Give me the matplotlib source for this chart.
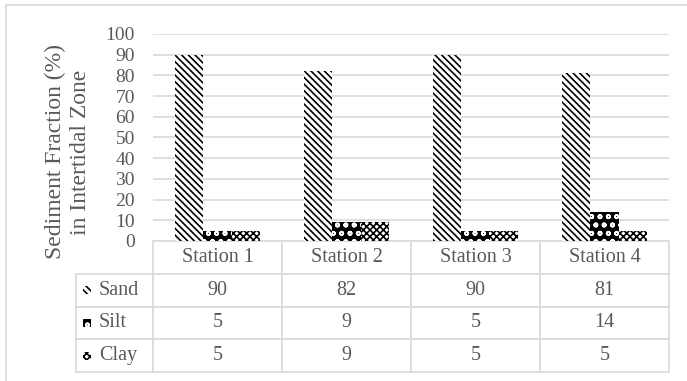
import matplotlib
matplotlib.use("Agg")
import matplotlib.pyplot as plt
from matplotlib.patches import Rectangle
import numpy as np

stations = ["Station 1", "Station 2", "Station 3", "Station 4"]
fractions = ["Sand", "Silt", "Clay"]
sand = [90, 82, 90, 81]
silt = [5, 9, 5, 14]
clay = [5, 9, 5, 5]

TXT = "#595959"
GRID = "#d9d9d9"
plt.rcParams["font.family"] = ["Liberation Serif", "DejaVu Serif"]
plt.rcParams["hatch.linewidth"] = 1.2

W, H = 687, 381
fig = plt.figure(figsize=(W / 100, H / 100), dpi=100)
ax = fig.add_axes([153 / W, 1 - 241 / H, 516 / W, 207 / H])

# bar styles: (face, hatch colour, hatch)
styles = [("white", "black", "\\" * 5),
          ("black", "white", "oo"),
          ("white", "black", "xxxxx")]
series = [sand, silt, clay]

x = np.arange(len(stations))
bw = 0.222
for i, (vals, (fc, hc, hp)) in enumerate(zip(series, styles)):
    ax.bar(x + (i - 1) * bw, vals, bw, facecolor=fc, edgecolor=hc, hatch=hp,
           linewidth=0, zorder=3)

ax.set_xlim(-0.5, len(stations) - 0.5)
ax.set_ylim(0, 100)
ax.set_yticks(range(0, 101, 10))
ax.yaxis.grid(True, color=GRID, linewidth=1.2, zorder=0)
ax.tick_params(axis="y", length=0, pad=13, labelsize=14, labelcolor=TXT)
ax.set_xticks([])
for s in ax.spines.values():
    s.set_visible(False)

ax.text(-0.165, 0.43, "Sediment Fraction (%)\nin Intertidal Zone", transform=ax.transAxes,
        rotation=90, ha="center", va="center", fontsize=17, color=TXT, linespacing=1.2)

# data table underneath
cell_text = [[f] + [str(v) for v in vals] for f, vals in zip(fractions, series)]
tbl = ax.table(cellText=cell_text, colLabels=[""] + stations,
               colWidths=[77] + [129] * 4, cellLoc="center",
               bbox=[(76 - 153) / 516, (241 - 372) / 207, (669 - 76) / 516, 131 / 207])
tbl.auto_set_font_size(False)
for (r, c), cell in tbl.get_celld().items():
    cell.set_edgecolor(GRID)
    cell.set_linewidth(1.2)
    cell.get_text().set_color(TXT)
    cell.get_text().set_fontsize(14.5)
    if c == 0:
        cell.get_text().set_ha("left")
        cell._loc = "left"
        cell.PAD = 0.30
tbl[(0, 0)].visible_edges = "open"

# legend keys inside the table
row_y = [289.5, 322.5, 355.5]
for yy, (fc, hc, hp) in zip(row_y, styles):
    ax.add_patch(Rectangle(((83 - 153) / 516, (241 - yy - 4) / 207), 8 / 516, 8 / 207,
                           transform=ax.transAxes, facecolor=fc, edgecolor=hc,
                           hatch=hp, linewidth=0, clip_on=False, zorder=5))

fig.patches.append(Rectangle((6 / W, -0.1), 1.2, 1 - 5 / H + 0.1, transform=fig.transFigure,
                             fill=False, edgecolor=GRID, linewidth=1.2))

fig.savefig("out.png", dpi=100)
